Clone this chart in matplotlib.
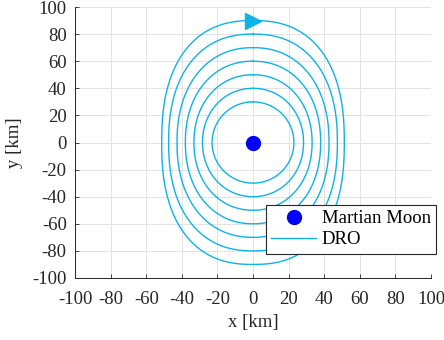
import numpy as np
import matplotlib
matplotlib.use("Agg")
import matplotlib.pyplot as plt

plt.rcParams['font.family'] = ['Liberation Serif', 'DejaVu Serif']

# DRO family: half-widths along x, half-heights along y [km] and
# squareness exponent of each closed orbit
dro_half_x = [23.0, 28.4, 33.2, 38.0, 42.7, 47.4, 51.3]
dro_half_y = [30.0, 40.0, 50.0, 60.0, 70.0, 80.0, 90.0]
dro_shape = [2.0, 2.05, 2.1, 2.15, 2.2, 2.3, 2.4]

moon_x, moon_y = [0.0], [0.0]
arrow_x, arrow_y = [0.0], [90.0]

ticks = [-100, -80, -60, -40, -20, 0, 20, 40, 60, 80, 100]
tick_labels = [str(t) for t in ticks]

orbit_color = '#0db3e6'
axis_color = '#262626'
fs = 13.5

fig = plt.figure(figsize=(4.44, 3.4), dpi=100)
ax = fig.add_axes([75 / 444, 1 - 278 / 340, 356 / 444, 271 / 340])

t = np.linspace(0, 2 * np.pi, 600)
for i, (a, b, n) in enumerate(zip(dro_half_x, dro_half_y, dro_shape)):
    s, c = np.sin(t), np.cos(t)
    xs = a * np.sign(s) * np.abs(s) ** (2.0 / n)
    ys = b * np.sign(c) * np.abs(c) ** (2.0 / n)
    ax.plot(xs, ys, color=orbit_color, lw=1.0,
            label='DRO' if i == 0 else None, zorder=2)

ax.plot(arrow_x, arrow_y, marker='>', ms=11, color=orbit_color,
        ls='none', zorder=3)
ax.plot(moon_x, moon_y, marker='o', ms=10, color='#0000ff',
        ls='none', label='Martian Moon', zorder=4)

ax.set_xlim(-100, 100)
ax.set_ylim(-100, 100)
ax.set_xticks(ticks)
ax.set_xticklabels(tick_labels)
ax.set_yticks(ticks)
ax.set_yticklabels(tick_labels)

ax.grid(True, color='#e3e3e3', lw=0.7, zorder=0)
ax.set_axisbelow(True)
ax.tick_params(direction='in', length=3, width=0.6, color=axis_color,
               labelsize=fs, labelcolor=axis_color)
ax.tick_params(axis='x', pad=9)
ax.tick_params(axis='y', pad=6)
for side in ['left', 'bottom']:
    ax.spines[side].set_color(axis_color)
    ax.spines[side].set_linewidth(0.7)
for side in ['top', 'right']:
    ax.spines[side].set_visible(False)

ax.set_xlabel('x [km]', fontsize=fs, color=axis_color)
ax.set_ylabel('y [km]', fontsize=fs, color=axis_color)
ax.xaxis.set_label_coords(0.5, (278 - 314) / 271)
ax.yaxis.set_label_coords((23 - 75) / 356, 0.5)

handles, labels = ax.get_legend_handles_labels()
order = [labels.index('Martian Moon'), labels.index('DRO')]
leg = ax.legend([handles[i] for i in order], [labels[i] for i in order],
                loc='upper left', bbox_to_anchor=(266 / 444, 1 - 205 / 340),
                bbox_transform=fig.transFigure,
                fontsize=fs, frameon=True, fancybox=False, borderaxespad=0,
                handlelength=2.4, handletextpad=0.28, borderpad=0.28,
                labelspacing=0.2)
leg.get_frame().set_edgecolor(axis_color)
leg.get_frame().set_linewidth(0.8)
leg.get_frame().set_alpha(1)

fig.savefig('out.png', dpi=100)
